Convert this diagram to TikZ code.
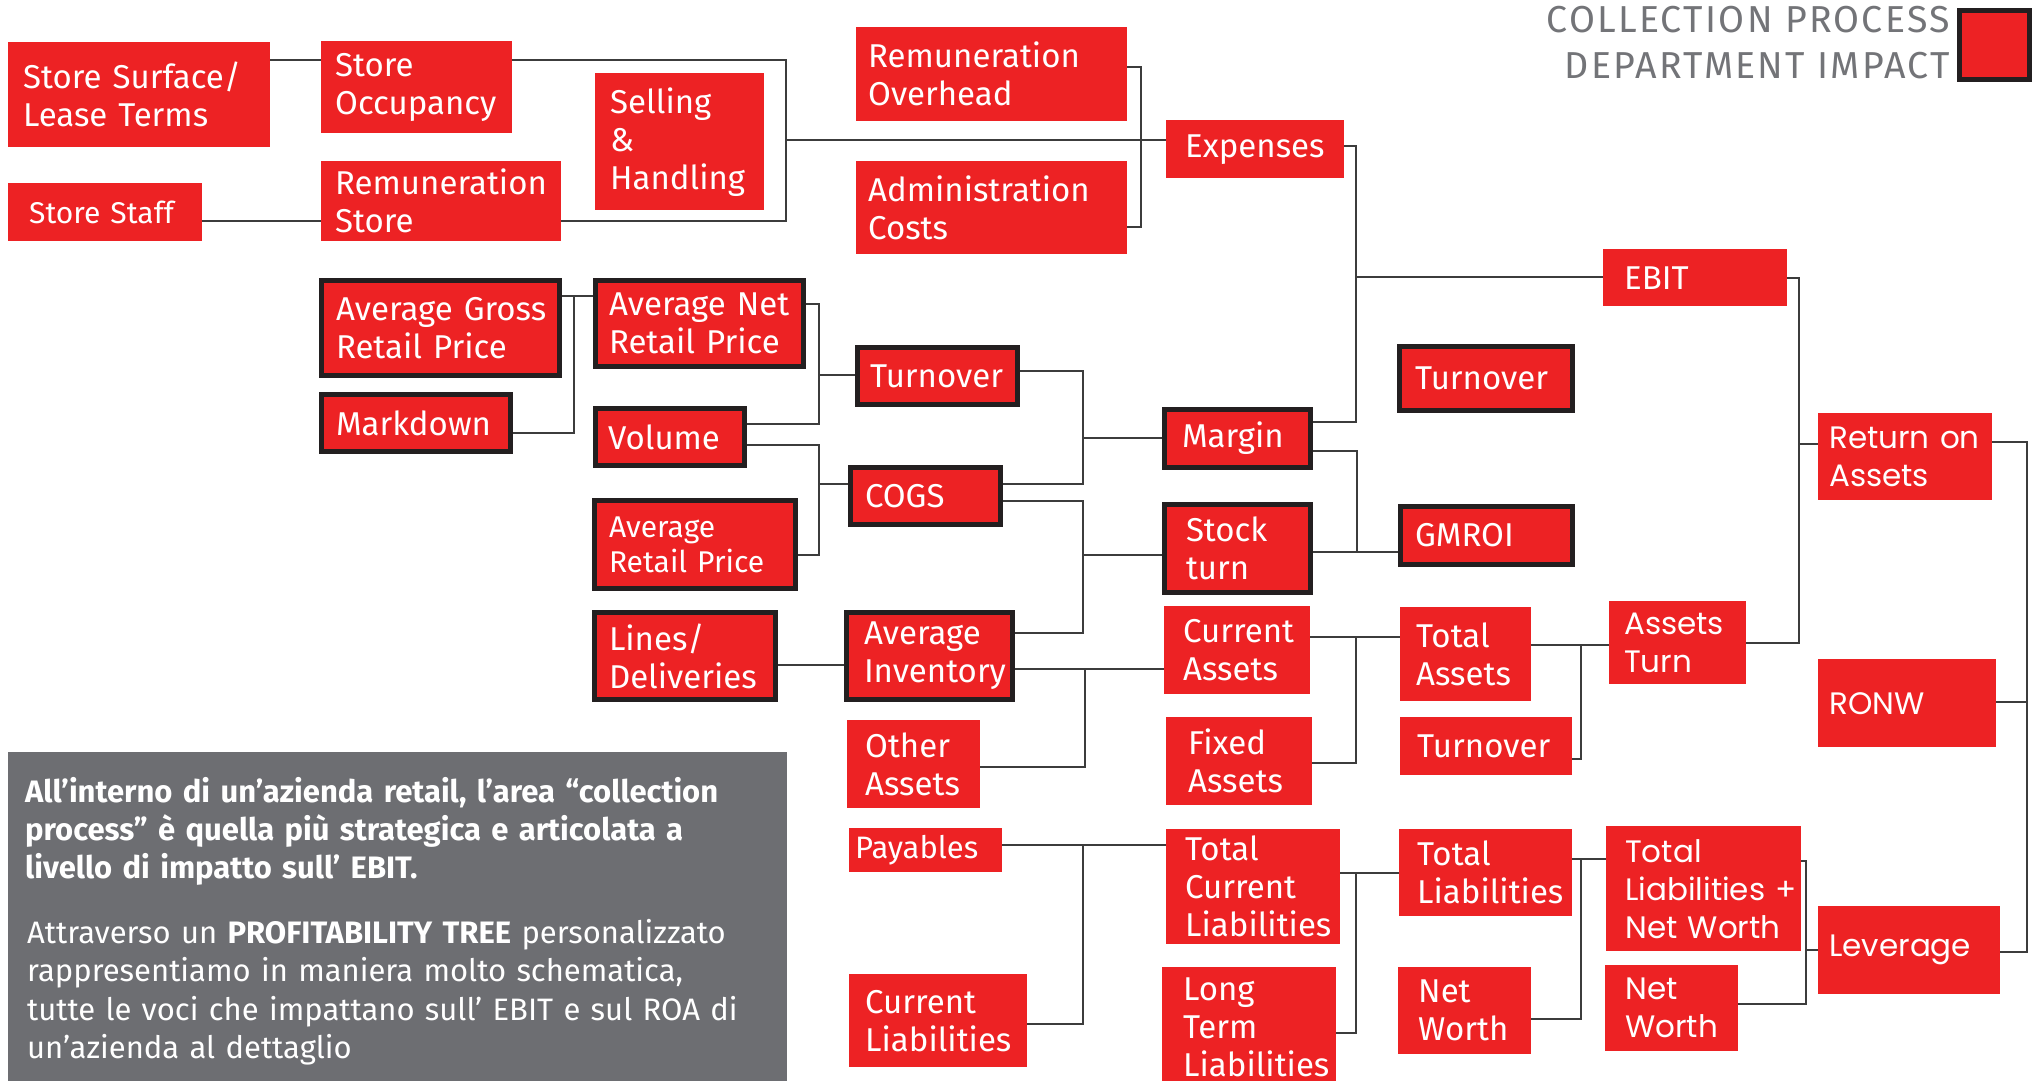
\documentclass[tikz,border=0pt]{standalone}
\usepackage{fontspec}
\setmainfont{Fira Sans}
\newfontfamily\popfont{Poppins}
\newfontfamily\hdrfont[LetterSpace=6]{Fira Sans}
\hyphenpenalty=10000
\exhyphenpenalty=10000
\definecolor{cred}{RGB}{237,34,36}
\definecolor{cblk}{RGB}{35,31,32}
\definecolor{cline}{RGB}{60,60,60}
\definecolor{cbox}{RGB}{109,110,114}
\definecolor{chdr}{RGB}{115,116,120}
\tikzset{
  rb/.style={fill=cred, text=white, anchor=north west, inner ysep=0pt, align=left, font=\fontsize{33}{38}\selectfont},
  tb/.style={rb, draw=cblk, line width=5pt},
  pf/.style={font=\popfont\fontsize{31}{38}\selectfont},
  sz/.code n args={3}{\pgfmathsetmacro\tw{#1-2*#3}\pgfmathsetmacro\ix{#3}\edef\tmp{\noexpand\pgfkeysalso{text width=\tw pt, minimum height=#2pt, inner xsep=\ix pt}}\tmp},
  tsz/.code n args={3}{\pgfmathsetmacro\tw{#1-2*#3}\pgfmathsetmacro\ix{#3-2.5}\pgfmathsetmacro\mh{#2-5}\edef\tmp{\noexpand\pgfkeysalso{text width=\tw pt, minimum height=\mh pt, inner xsep=\ix pt}}\tmp},
  ln/.style={draw=cline, line width=2pt},
}
\begin{document}
\begin{tikzpicture}[x=1pt, y=-1pt]
\useasboundingbox (0,0) rectangle (2035,1081);
\clip (0,0) rectangle (2035,1081);
\fill[white] (0,0) rectangle (2035,1081);

% header
\node[anchor=base east, text width=600pt, align=right, inner sep=0pt, text=chdr, font=\hdrfont\fontsize{37.5}{46}\selectfont] (hdr) at (1950,33) {COLLECTION PROCESS\\DEPARTMENT IMPACT};
\node[tb, minimum width=70pt, minimum height=69pt, inner sep=0pt] (leg) at (1957,8) {};

% thin red boxes
\node[rb, sz={262}{105}{15}] (ss) at (8,42) {Store~Surface/\\Lease~Terms};
\node[rb, sz={191}{92}{14}] (so) at (321,41) {Store\\Occupancy};
\node[rb, sz={169}{137}{15}] (sh) at (595,73) {Selling\\\&\\Handling};
\node[rb, sz={194}{58}{21}, font=\fontsize{30}{36}\selectfont] (st) at (8,183) {Store~Staff};
\node[rb, sz={240}{80}{14}] (rs) at (321,161) {Remuneration\\Store};
\node[rb, sz={271}{94}{12}] (ro) at (856,27) {Remuneration\\Overhead};
\node[rb, sz={271}{93}{12}] (ac) at (856,161) {Administration\\Costs};
\node[rb, sz={178}{58}{19}] (ex) at (1166,120) {Expenses};
\node[rb, sz={184}{57}{21}] (ebit) at (1603,249) {EBIT};
\node[rb, sz={146}{88}{19}] (ca) at (1164,606) {Current\\Assets};
\node[rb, sz={131}{94}{16}] (ta) at (1400,607) {Total\\Assets};
\node[rb, pf, sz={137}{83}{15}] (at) at (1609,601) {Assets\\Turn};
\node[rb, sz={146}{88}{22}] (fa) at (1166,717) {Fixed\\Assets};
\node[rb, sz={172}{58}{17}] (to2) at (1400,717) {Turnover};
\node[rb, sz={133}{88}{18}] (oa) at (847,720) {Other\\Assets};
\node[rb, sz={153}{44}{6}, font=\fontsize{31}{38}\selectfont] (pay) at (849,828) {Payables};
\node[rb, sz={174}{115}{19}] (tcl) at (1166,829) {Total\\Current\\Liabilities};
\node[rb, sz={173}{87}{18}] (tl) at (1399,829) {Total\\Liabilities};
\node[rb, sz={178}{93}{16}] (cl) at (849,974) {Current\\Liabilities};
\node[rb, sz={174}{120}{21}] (ltl) at (1162,967) {Long\\Term\\Liabilities};
\node[rb, sz={133}{87}{20}] (nw1) at (1398,967) {Net\\Worth};
\node[rb, pf, sz={195}{125}{19}] (tlnw) at (1606,826) {Total\\Liabilities~+\\Net~Worth};
\node[rb, pf, sz={133}{86}{20}] (nw2) at (1605,965) {Net\\Worth};
\node[rb, pf, sz={174}{87}{11}] (roa) at (1818,413) {Return~on\\Assets};
\node[rb, pf, sz={178}{88}{11}] (ronw) at (1818,659) {RONW};
\node[rb, pf, sz={182}{88}{11}] (lev) at (1818,906) {Leverage};

% thick bordered boxes
\node[tb, tsz={243}{100}{17}] (agp) at (319,278) {Average~Gross\\Retail~Price};
\node[tb, tsz={194}{62}{17}] (md) at (319,392) {Markdown};
\node[tb, tsz={213}{91}{16}] (anp) at (593,278) {Average~Net\\Retail~Price};
\node[tb, tsz={154}{62}{15}] (vol) at (593,406) {Volume};
\node[tb, tsz={165}{62}{15}] (to1) at (855,345) {Turnover};
\node[tb, tsz={155}{62}{17}] (cogs) at (848,465) {COGS};
\node[tb, tsz={206}{93}{17}, font=\fontsize{30}{35}\selectfont] (arp) at (592,498) {Average\\Retail~Price};
\node[tb, tsz={186}{92}{17}] (ld) at (592,610) {Lines/\\Deliveries};
\node[tb, tsz={171}{92}{20}] (ai) at (844,610) {Average\\Inventory};
\node[tb, tsz={151}{63}{20}] (mar) at (1162,407) {Margin};
\node[tb, tsz={151}{93}{24}] (stk) at (1162,502) {Stock\\turn};
\node[tb, tsz={178}{69}{18}] (to3) at (1397,344) {Turnover};
\node[tb, tsz={177}{63}{17}] (gm) at (1398,504) {GMROI};

% grey text panel
\node[fill=cbox, anchor=north west, minimum width=779pt, minimum height=340pt, inner sep=0pt] (gb) at (8,752) {};
\node[anchor=base west, text width=770pt, align=left, inner sep=0pt, text=white, font=\bfseries\fontsize{31}{38}\selectfont] (t1) at (25,802) {\mbox{All’interno di un’azienda retail, l’area “collection}\\\mbox{process” è quella più strategica e articolata a}\\\mbox{livello di impatto sull’ EBIT.}};
\node[anchor=base west, text width=770pt, align=left, inner sep=0pt, text=white, font=\fontsize{31}{38.5}\selectfont] (t2) at (27,943) {\mbox{Attraverso un \textbf{PROFITABILITY TREE} personalizzato}\\\mbox{rappresentiamo in maniera molto schematica,}\\\mbox{tutte le voci che impattano sull’ EBIT e sul ROA di}\\\mbox{un’azienda al dettaglio}};

% junctions
\coordinate (j1) at (786,140);
\coordinate (j2) at (1141,140);
\coordinate (j3) at (1356,277);
\coordinate (j4) at (1799,444);
\coordinate (j5) at (2027,702);
\coordinate (j6) at (574,296);
\coordinate (j7) at (819,375);
\coordinate (j8) at (819,484);
\coordinate (j9) at (1083,438);
\coordinate (j10) at (1083,555);
\coordinate (j11) at (1357,552);
\coordinate (j12) at (1085,669);
\coordinate (j13) at (1356,637);
\coordinate (j14) at (1581,645);
\coordinate (j15) at (1083,845);
\coordinate (j16) at (1356,873);
\coordinate (j17) at (1581,859);
\coordinate (j18) at (1806,950);

% connectors
\draw[ln] (ss.east|-0,60) -- (so.west|-0,60);
\draw[ln] (so.east|-0,60) -| (j1) |- (rs.east|-0,221);
\draw[ln] (st.east|-0,221) -- (rs.west|-0,221);
\draw[ln] (j1) -- (ex.west|-j1);
\draw[ln] (ro.east|-0,67) -| (j2) |- (ac.east|-0,227);
\draw[ln] (ex.east|-0,146) -| (j3) |- (mar.east|-0,422);
\draw[ln] (j3) -- (ebit.west|-j3);
\draw[ln] (ebit.east|-0,278) -| (j4) |- (at.east|-0,643);
\draw[ln] (j4) -- (roa.west|-j4);
\draw[ln] (roa.east|-0,442) -| (j5) |- (lev.east|-0,952);
\draw[ln] (ronw.east|-j5) -- (j5);
\draw[ln] (agp.east|-j6) -- (anp.west|-j6);
\draw[ln] (j6) |- (md.east|-0,433);
\draw[ln] (anp.east|-0,304) -| (j7) |- (vol.east|-0,424);
\draw[ln] (j7) -- (to1.west|-j7);
\draw[ln] (vol.east|-0,445) -| (j8) |- (arp.east|-0,555);
\draw[ln] (j8) -- (cogs.west|-j8);
\draw[ln] (to1.east|-0,371) -| (j9) |- (cogs.east|-0,484);
\draw[ln] (j9) -- (mar.west|-j9);
\draw[ln] (cogs.east|-0,501) -| (j10) |- (ai.east|-0,633);
\draw[ln] (j10) -- (stk.west|-j10);
\draw[ln] (mar.east|-0,451) -| (j11) -- (stk.east|-j11);
\draw[ln] (j11) -- (gm.west|-j11);
\draw[ln] (ld.east|-0,665) -- (ai.west|-0,665);
\draw[ln] (ai.east|-j12) -- (ca.west|-j12);
\draw[ln] (j12) |- (oa.east|-0,767);
\draw[ln] (ca.east|-j13) -- (ta.west|-j13);
\draw[ln] (j13) |- (fa.east|-0,763);
\draw[ln] (ta.east|-j14) -- (at.west|-j14);
\draw[ln] (j14) |- (to2.east|-0,759);
\draw[ln] (pay.east|-j15) -- (tcl.west|-j15);
\draw[ln] (j15) |- (cl.east|-0,1024);
\draw[ln] (tcl.east|-j16) -- (tl.west|-j16);
\draw[ln] (j16) |- (ltl.east|-0,1033);
\draw[ln] (tl.east|-j17) -- (tlnw.west|-j17);
\draw[ln] (j17) |- (nw1.east|-0,1019);
\draw[ln] (tlnw.east|-0,861) -| (j18) |- (nw2.east|-0,1004);
\draw[ln] (j18) -- (lev.west|-j18);
\end{tikzpicture}
\end{document}
